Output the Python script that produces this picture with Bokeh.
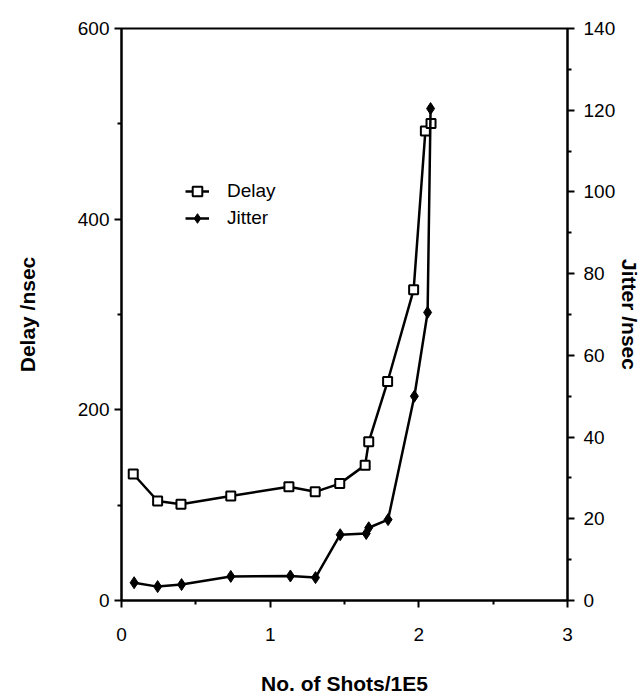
from bokeh.plotting import figure
from bokeh.models import Range1d, LinearAxis, FixedTicker, Legend, LegendItem
from bokeh.embed import file_html
from bokeh.resources import INLINE

# values
shots_delay = [0.079, 0.243, 0.400, 0.735, 1.126, 1.303, 1.468, 1.639, 1.663, 1.790, 1.965, 2.044, 2.082]
delay_ns = [132.7, 104.4, 100.9, 109.7, 119.4, 114.0, 122.6, 142.0, 166.4, 229.7, 325.9, 492.4, 500.4]

shots_jitter = [0.085, 0.243, 0.404, 0.735, 1.136, 1.305, 1.471, 1.646, 1.663, 1.793, 1.970, 2.059, 2.079]
jitter_ns = [4.35, 3.4, 3.9, 5.9, 6.0, 5.6, 16.1, 16.4, 17.8, 19.8, 50.0, 70.5, 120.4]

x_ticks = [0, 1, 2, 3]
x_minor = [0.5, 1.5, 2.5]
delay_ticks = [0, 200, 400, 600]
delay_minor = [100, 300, 500]
jitter_ticks = [0, 20, 40, 60, 80, 100, 120, 140]
jitter_minor = [10, 30, 50, 70, 90, 110, 130]

FONT = "Liberation Sans"

p = figure(width=644, height=697,
           x_range=Range1d(0, 3), y_range=Range1d(0, 600),
           output_backend="svg", toolbar_location=None,
           min_border_left=121, min_border_right=76,
           min_border_top=28, min_border_bottom=96)
p.extra_y_ranges = {"jitter": Range1d(0, 140)}
p.add_layout(LinearAxis(y_range_name="jitter"), "right")

p.grid.visible = False
p.outline_line_color = "black"
p.outline_line_width = 2
p.background_fill_color = "white"
p.border_fill_color = "white"

p.xaxis.ticker = FixedTicker(ticks=x_ticks, minor_ticks=x_minor)
p.yaxis[0].ticker = FixedTicker(ticks=delay_ticks, minor_ticks=delay_minor)
p.yaxis[1].ticker = FixedTicker(ticks=jitter_ticks, minor_ticks=jitter_minor)

p.xaxis.axis_label = "No. of Shots/1E5"
p.yaxis[0].axis_label = "Delay /nsec"
p.yaxis[1].axis_label = "Jitter /nsec"

for ax in p.axis:
    ax.axis_line_width = 2
    ax.axis_line_color = "black"
    ax.major_tick_line_width = 2
    ax.minor_tick_line_width = 2
    ax.major_tick_line_color = "black"
    ax.minor_tick_line_color = "black"
    ax.major_tick_in = 0
    ax.major_tick_out = 7
    ax.minor_tick_in = 0
    ax.minor_tick_out = 4
    ax.major_label_text_font = FONT
    ax.major_label_text_font_size = "19px"
    ax.major_label_text_color = "black"
    ax.axis_label_text_font = FONT
    ax.axis_label_text_font_size = "21px"
    ax.axis_label_text_font_style = "bold"
    ax.axis_label_text_color = "black"

p.xaxis.major_label_standoff = 20
p.xaxis.axis_label_standoff = 28
p.yaxis[0].major_label_standoff = 5
p.yaxis[0].axis_label_standoff = 36
p.yaxis[1].major_label_standoff = 9
p.yaxis[1].axis_label_standoff = 0

d_line = p.line(shots_delay, delay_ns, line_color="black", line_width=2.5)
d_pts = p.scatter(shots_delay, delay_ns, marker="square", size=9,
                  fill_color="white", line_color="black", line_width=2)

j_line = p.line(shots_jitter, jitter_ns, y_range_name="jitter",
                line_color="black", line_width=2.5)
j_pts = p.scatter(shots_jitter, jitter_ns, y_range_name="jitter", marker="diamond",
                  size=12, fill_color="black", line_color="black")

legend = Legend(items=[LegendItem(label="Delay", renderers=[d_line, d_pts]),
                       LegendItem(label="Jitter", renderers=[j_line, j_pts])],
                location=(64, 370), padding=0, margin=0, spacing=3,
                glyph_width=24, glyph_height=24, label_height=24,
                label_standoff=18, border_line_color=None,
                background_fill_alpha=0,
                label_text_font=FONT, label_text_font_size="19px",
                label_text_color="black")
p.add_layout(legend)

open("out.html", "w").write(file_html(p, INLINE))
